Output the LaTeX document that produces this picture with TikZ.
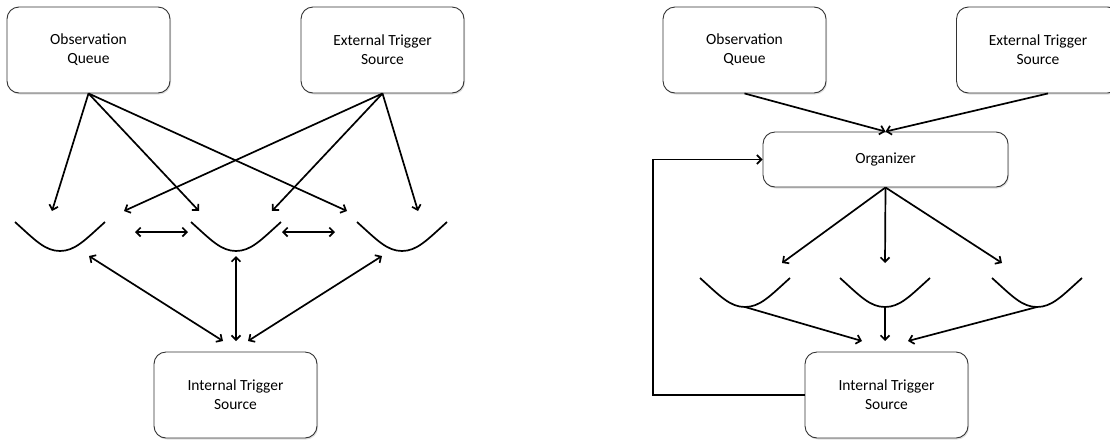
\documentclass[tikz,border=0pt]{standalone}
\usepackage{fontspec}
\setmainfont{Carlito}
\usetikzlibrary{arrows.meta,shadows}

\tikzset{
  box/.style={draw=black!80, line width=0.9pt, rounded corners=12pt, fill=white,
    minimum width=163pt, minimum height=86pt, align=center,
    font=\fontsize{15.5}{19}\selectfont,
    drop shadow={opacity=0.25, shadow xshift=1pt, shadow yshift=-1.5pt}},
  wire/.style={line width=1.7pt, -{Straight Barb[length=4.5pt,width=9pt]}},
  both/.style={wire, {Straight Barb[length=4.5pt,width=9pt]}-{Straight Barb[length=4.5pt,width=9pt]}},
  bowl/.pic={\draw[line width=1.7pt] (-45,29) .. controls (-25,11) and (-15,0) .. (0,0)
    .. controls (15,0) and (25,11) .. (45,29);}
}

\begin{document}
\begin{tikzpicture}[x=1pt,y=1pt,yscale=-1]
\clip (0,0) rectangle (1110,440);
% left
\node[box] (oq) at (88.5,50) {Observation\\Queue};
\node[box] (ets) at (382.5,50) {External Trigger\\Source};
\node[box] (its) at (235.5,395) {Internal Trigger\\Source};
\pic at (60,251) {bowl};
\pic at (236,251) {bowl};
\pic at (402,251) {bowl};
\coordinate (a1) at (52,211);
\coordinate (a2) at (199,211);
\coordinate (a3) at (347,211);
\coordinate (e1) at (124,211);
\coordinate (e2) at (272,211);
\coordinate (e3) at (418,211);
\coordinate (h1) at (135,232);
\coordinate (h2) at (188,232);
\coordinate (h3) at (282,232);
\coordinate (h4) at (335,232);
\coordinate (u1) at (89,256);
\coordinate (u2) at (236,256);
\coordinate (u3) at (382,256);
\coordinate (d1) at (223,341);
\coordinate (d2) at (236,341);
\coordinate (d3) at (248,341);
\draw[wire] (oq.south) -- (a1);
\draw[wire] (oq.south) -- (a2);
\draw[wire] (oq.south) -- (a3);
\draw[wire] (ets.south) -- (e1);
\draw[wire] (ets.south) -- (e2);
\draw[wire] (ets.south) -- (e3);
\draw[both] (h1) -- (h2);
\draw[both] (h3) -- (h4);
\draw[both] (u1) -- (d1);
\draw[both] (u2) -- (d2);
\draw[both] (u3) -- (d3);
% right
\node[box] (oq2) at (744.5,50) {Observation\\Queue};
\node[box] (ets2) at (1038,50) {External Trigger\\Source};
\node[box, minimum width=245pt, minimum height=55pt] (org) at (885.5,159.5) {Organizer};
\node[box] (its2) at (886.5,395) {Internal Trigger\\Source};
\coordinate (b1) at (745,307);
\coordinate (b2) at (885,307);
\coordinate (b3) at (1037,307);
\pic at (b1) {bowl};
\pic at (b2) {bowl};
\pic at (b3) {bowl};
\coordinate (o1) at (782,263);
\coordinate (o2) at (885,263);
\coordinate (o3) at (1002,263);
\coordinate (t1) at (862,341);
\coordinate (t2) at (885,341);
\coordinate (t3) at (908,341);
\coordinate (fb) at (653,395);
\draw[wire] (oq2.south) -- (org.north);
\draw[wire] ([xshift=10pt]ets2.south) -- (org.north);
\draw[wire] (org.south) -- (o1);
\draw[wire] (org.south) -- (o2);
\draw[wire] (org.south) -- (o3);
\draw[wire] (b1) -- (t1);
\draw[wire] (b2) -- (t2);
\draw[wire] (b3) -- (t3);
\draw[wire] (its2.west) -- (fb) |- (org.west);
\end{tikzpicture}
\end{document}
